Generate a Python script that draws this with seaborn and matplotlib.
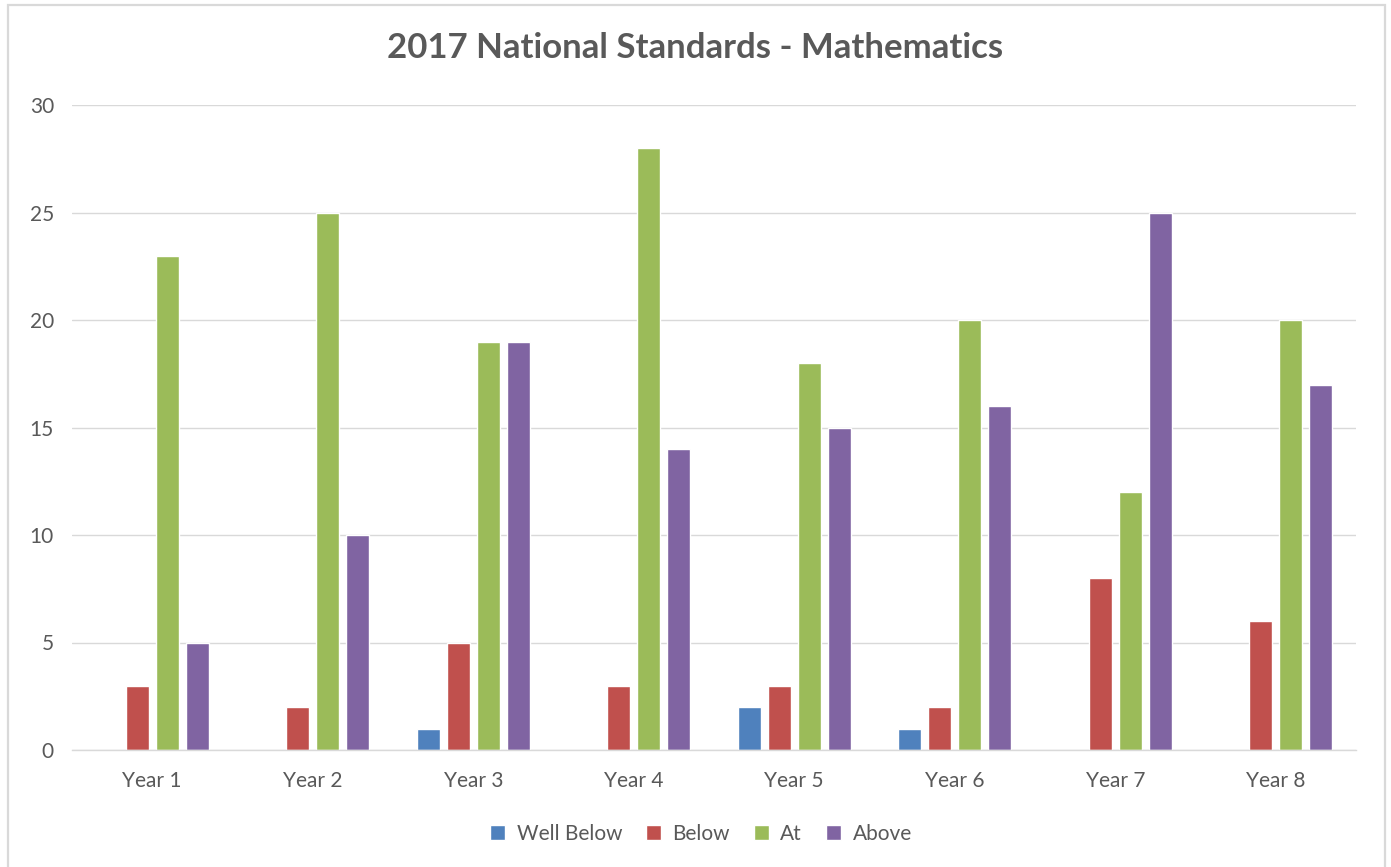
import matplotlib
matplotlib.use("Agg")
import matplotlib.pyplot as plt
import seaborn as sns
import pandas as pd
from matplotlib.patches import Rectangle

years = ["Year 1", "Year 2", "Year 3", "Year 4", "Year 5", "Year 6", "Year 7", "Year 8"]
levels = ["Well Below", "Below", "At", "Above"]
well_below = [0, 0, 1, 0, 2, 1, 0, 0]
below = [3, 2, 5, 3, 3, 2, 8, 6]
at = [23, 25, 19, 28, 18, 20, 12, 20]
above = [5, 10, 19, 14, 15, 16, 25, 17]
colors = ["#4F81BD", "#C0504D", "#9BBB59", "#8064A2"]

rows = []
for series_name, vals in zip(levels, [well_below, below, at, above]):
    for y, v in zip(years, vals):
        rows.append({"Year": y, "Level": series_name, "Count": v})
df = pd.DataFrame(rows)

sns.set_theme(style="white")
plt.rcParams["font.family"] = ["Lato", "DejaVu Sans"]
text_color = "#595959"

W, H = 1391, 867
fig = plt.figure(figsize=(W / 100, H / 100), dpi=100)
ax = fig.add_axes([72 / W, 1 - 750 / H, (1356 - 72) / W, (750 - 105) / H])

sns.barplot(data=df, x="Year", y="Count", hue="Level", order=years, hue_order=levels,
            palette=colors, width=0.75, gap=0.23, saturation=1, ax=ax, legend=True)

ax.set_ylim(0, 30)
ax.set_xlim(-0.5, len(years) - 0.5)
ax.set_yticks(range(0, 31, 5))
ax.yaxis.grid(True, color="#D9D9D9", linewidth=1)
ax.set_axisbelow(True)
for side in ["top", "right", "left"]:
    ax.spines[side].set_visible(False)
ax.spines["bottom"].set_color("#D9D9D9")
ax.spines["bottom"].set_linewidth(1)
ax.set_xlabel("")
ax.set_ylabel("")
ax.tick_params(axis="both", length=0, labelsize=15, labelcolor=text_color)
ax.tick_params(axis="y", pad=13)
ax.tick_params(axis="x", pad=15)

handles, labels = ax.get_legend_handles_labels()
ax.get_legend().remove()
fig.legend(handles, labels, loc="center", bbox_to_anchor=(701 / W, 1 - 834 / H), ncol=4,
           frameon=False, fontsize=15, labelcolor=text_color, handlelength=0.72,
           handleheight=0.75, handletextpad=0.55, columnspacing=1.15)

fig.text(0.5, 1 - 48 / H, "2017 National Standards - Mathematics", ha="center", va="center",
         fontsize=25, fontweight="bold", color=text_color)

fig.patches.append(Rectangle((8 / W, -0.01), (1385 - 8) / W, 1 - 5 / H + 0.01,
                             transform=fig.transFigure, fill=False, edgecolor="#D9D9D9",
                             linewidth=1.6))

fig.savefig("out.png", dpi=100)
